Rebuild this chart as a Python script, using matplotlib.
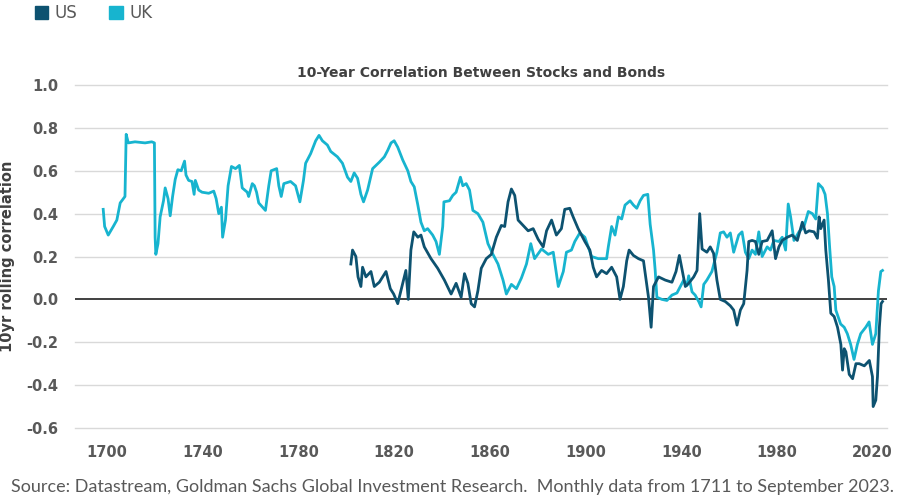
import matplotlib
matplotlib.use("Agg")
import matplotlib.pyplot as plt
from matplotlib.patches import Patch

# 10yr rolling stock/bond correlation
uk_years = [1698.4, 1699.0, 1700.5, 1701.3, 1702.6, 1704.1, 1705.5, 1706.8, 1707.5, 1708.0,
            1708.9, 1711.7, 1715.9, 1718.7, 1719.8, 1720.1, 1720.4, 1721.3, 1722.2, 1723.6,
            1724.3, 1725.5, 1726.4, 1727.4, 1728.5, 1729.6, 1731.0, 1732.4, 1733.0, 1734.1,
            1735.5, 1736.4, 1736.9, 1738.3, 1739.7, 1742.5, 1744.6, 1745.6, 1746.7, 1747.8,
            1748.3, 1749.5, 1750.6, 1752.0, 1753.7, 1755.3, 1756.5, 1758.6, 1759.2, 1760.7,
            1761.6, 1762.5, 1763.4, 1766.2, 1767.6, 1768.6, 1770.9, 1771.8, 1772.8, 1773.9,
            1776.7, 1778.8, 1780.6, 1782.1, 1783.0, 1785.1, 1787.2, 1788.6, 1790.0, 1792.1,
            1793.5, 1796.3, 1798.4, 1800.5, 1801.9, 1803.3, 1804.7, 1806.1, 1807.2, 1808.9,
            1811.0, 1813.8, 1815.9, 1817.3, 1818.7, 1820.0, 1821.5, 1823.6, 1825.7, 1827.0,
            1828.4, 1829.9, 1831.2, 1832.6, 1834.0, 1836.1, 1837.5, 1838.9, 1840.3, 1840.8,
            1843.1, 1844.5, 1845.9, 1847.7, 1848.7, 1850.1, 1851.5, 1852.9, 1855.0, 1857.1,
            1859.2, 1861.3, 1863.4, 1865.5, 1866.9, 1869.0, 1871.1, 1873.2, 1875.3, 1877.1,
            1878.7, 1881.6, 1884.4, 1886.5, 1888.6, 1890.7, 1892.0, 1894.1, 1895.5, 1897.6,
            1899.7, 1901.1, 1902.5, 1905.3, 1908.8, 1909.5, 1910.9, 1912.3, 1913.7, 1915.1,
            1916.5, 1918.6, 1920.0, 1921.4, 1922.8, 1924.2, 1926.0, 1927.0, 1928.4, 1929.1,
            1929.8, 1931.9, 1934.0, 1936.1, 1938.2, 1939.6, 1941.0, 1942.4, 1943.1, 1944.5,
            1945.8, 1947.3, 1948.3, 1949.4, 1950.7, 1952.8, 1954.9, 1956.3, 1957.7, 1959.1,
            1960.5, 1961.9, 1964.0, 1965.4, 1966.8, 1968.2, 1969.6, 1971.0, 1972.4, 1973.8,
            1975.9, 1977.3, 1978.7, 1980.8, 1982.2, 1983.6, 1984.7, 1985.7, 1987.1, 1989.2,
            1991.3, 1993.1, 1994.8, 1996.2, 1997.3, 1999.0, 2000.1, 2001.1, 2002.0, 2002.9,
            2003.9, 2004.6, 2006.6, 2008.1, 2009.4, 2010.8, 2012.2, 2013.6, 2015.0, 2017.1,
            2018.5, 2019.9, 2021.3, 2022.4, 2023.4, 2024.1]
uk_corr = [0.42, 0.34, 0.30, 0.315, 0.34, 0.37, 0.45, 0.47, 0.48, 0.77,
           0.73, 0.735, 0.73, 0.735, 0.73, 0.29, 0.21, 0.26, 0.385, 0.46,
           0.52, 0.47, 0.39, 0.48, 0.56, 0.605, 0.60, 0.645, 0.58, 0.555,
           0.55, 0.49, 0.555, 0.51, 0.50, 0.495, 0.505, 0.47, 0.40, 0.43,
           0.29, 0.37, 0.53, 0.62, 0.61, 0.625, 0.52, 0.50, 0.48, 0.54,
           0.53, 0.50, 0.45, 0.415, 0.53, 0.60, 0.61, 0.53, 0.48, 0.54,
           0.55, 0.53, 0.455, 0.555, 0.635, 0.68, 0.74, 0.765, 0.74, 0.72,
           0.69, 0.665, 0.635, 0.57, 0.55, 0.59, 0.565, 0.49, 0.455, 0.51,
           0.61, 0.64, 0.665, 0.695, 0.73, 0.74, 0.71, 0.65, 0.60, 0.55,
           0.525, 0.44, 0.36, 0.32, 0.33, 0.30, 0.27, 0.21, 0.34, 0.455,
           0.46, 0.485, 0.50, 0.57, 0.53, 0.54, 0.51, 0.415, 0.40, 0.36,
           0.26, 0.21, 0.165, 0.09, 0.025, 0.07, 0.05, 0.10, 0.165, 0.26,
           0.19, 0.235, 0.21, 0.22, 0.06, 0.13, 0.22, 0.23, 0.27, 0.31,
           0.29, 0.245, 0.20, 0.19, 0.19, 0.245, 0.34, 0.30, 0.385, 0.375,
           0.44, 0.46, 0.44, 0.425, 0.46, 0.485, 0.49, 0.35, 0.23, 0.135,
           0.01, 0.00, -0.005, 0.02, 0.03, 0.06, 0.09, 0.065, 0.11, 0.035,
           0.02, -0.01, -0.035, 0.07, 0.09, 0.13, 0.22, 0.31, 0.315, 0.29,
           0.31, 0.22, 0.30, 0.315, 0.22, 0.19, 0.23, 0.21, 0.315, 0.20,
           0.245, 0.23, 0.275, 0.27, 0.29, 0.23, 0.445, 0.385, 0.275, 0.315,
           0.34, 0.41, 0.40, 0.375, 0.54, 0.52, 0.49, 0.40, 0.245, 0.105,
           0.06, -0.05, -0.115, -0.13, -0.16, -0.21, -0.28, -0.21, -0.16, -0.13,
           -0.105, -0.21, -0.16, 0.04, 0.13, 0.135]

us_years = [1801.9, 1802.6, 1804.0, 1804.9, 1806.1, 1806.8, 1808.2, 1810.3, 1811.7, 1813.8,
            1816.6, 1818.4, 1819.8, 1821.5, 1823.6, 1824.9, 1825.9, 1827.0, 1828.2, 1829.9,
            1831.2, 1832.6, 1835.4, 1838.2, 1841.0, 1843.8, 1845.9, 1848.0, 1849.4, 1850.8,
            1852.2, 1853.6, 1855.0, 1856.4, 1858.5, 1860.6, 1862.7, 1864.8, 1866.2, 1867.6,
            1869.0, 1870.4, 1871.8, 1873.9, 1876.0, 1878.1, 1880.2, 1882.3, 1883.7, 1885.8,
            1887.8, 1889.9, 1891.3, 1893.4, 1894.8, 1896.9, 1899.7, 1901.8, 1903.2, 1904.6,
            1906.7, 1908.8, 1910.9, 1913.0, 1914.4, 1915.8, 1917.2, 1918.2, 1920.0, 1922.1,
            1924.2, 1926.3, 1927.4, 1928.4, 1930.5, 1933.3, 1936.1, 1937.8, 1939.2, 1940.3,
            1941.7, 1943.1, 1945.2, 1946.6, 1947.7, 1948.7, 1950.7, 1952.1, 1953.5, 1954.9,
            1956.3, 1958.4, 1960.5, 1961.9, 1963.3, 1964.7, 1966.1, 1967.5, 1968.2, 1969.6,
            1971.0, 1972.4, 1973.8, 1975.9, 1978.0, 1979.4, 1980.8, 1982.2, 1984.3, 1986.4,
            1988.5, 1990.6, 1992.0, 1993.4, 1995.5, 1996.9, 1997.6, 1998.3, 1999.7, 2000.4,
            2001.5, 2002.5, 2003.9, 2005.3, 2006.7, 2007.4, 2008.1, 2008.8, 2010.2, 2011.6,
            2013.0, 2014.4, 2016.5, 2018.6, 2019.9, 2020.2, 2021.3, 2022.0, 2022.8, 2023.5,
            2024.1]
us_corr = [0.165, 0.23, 0.20, 0.105, 0.06, 0.15, 0.105, 0.13, 0.06, 0.08,
           0.13, 0.05, 0.025, -0.02, 0.075, 0.135, 0.0, 0.23, 0.315, 0.29,
           0.30, 0.245, 0.19, 0.145, 0.09, 0.025, 0.075, 0.01, 0.12, 0.075,
           -0.02, -0.035, 0.04, 0.145, 0.19, 0.21, 0.29, 0.345, 0.34, 0.455,
           0.515, 0.485, 0.37, 0.345, 0.32, 0.33, 0.28, 0.245, 0.32, 0.37,
           0.30, 0.33, 0.42, 0.425, 0.385, 0.33, 0.27, 0.23, 0.15, 0.105,
           0.135, 0.12, 0.15, 0.105, 0.0, 0.06, 0.18, 0.23, 0.205, 0.19,
           0.18, 0.01, -0.13, 0.06, 0.105, 0.09, 0.08, 0.13, 0.205, 0.14,
           0.06, 0.075, 0.105, 0.135, 0.40, 0.235, 0.22, 0.245, 0.215, 0.09,
           0.0, -0.01, -0.03, -0.05, -0.12, -0.05, -0.02, 0.135, 0.27, 0.275,
           0.27, 0.21, 0.27, 0.275, 0.32, 0.19, 0.245, 0.275, 0.29, 0.30,
           0.275, 0.36, 0.31, 0.32, 0.315, 0.285, 0.385, 0.33, 0.37, 0.23,
           0.09, -0.065, -0.08, -0.13, -0.21, -0.33, -0.23, -0.245, -0.35, -0.37,
           -0.30, -0.30, -0.31, -0.285, -0.36, -0.50, -0.47, -0.36, -0.13, -0.02,
           -0.01]

y_ticks = [-0.6, -0.4, -0.2, 0.0, 0.2, 0.4, 0.6, 0.8, 1.0]
x_ticks = [1700, 1740, 1780, 1820, 1860, 1900, 1940, 1980, 2020]

US_COLOR = "#0d5270"
UK_COLOR = "#17b4cf"
TEXT_COLOR = "#595959"

fig = plt.figure(figsize=(9, 5.01), dpi=100)
ax = fig.add_axes([0.0833, 0.1457, 0.9023, 0.6846])

for y in y_ticks:
    if y != 0.0:
        ax.axhline(y, color="#d9d9d9", lw=1.0, zorder=1, clip_on=False)
ax.axhline(0.0, color="#404040", lw=1.4, zorder=2)

ax.plot(uk_years, uk_corr, color=UK_COLOR, lw=2.0, zorder=3, solid_joinstyle="round")
ax.plot(us_years, us_corr, color=US_COLOR, lw=2.0, zorder=4, solid_joinstyle="round")

ax.set_xlim(1686.6, 2026.0)
ax.set_ylim(-0.6, 1.0)
ax.set_xticks(x_ticks)
ax.set_yticks(y_ticks)
ax.set_yticklabels([f"{v:.1f}" for v in y_ticks])
ax.tick_params(length=0, labelsize=10.5, labelcolor=TEXT_COLOR, pad=12)
for lab in ax.get_xticklabels() + ax.get_yticklabels():
    lab.set_fontweight("bold")
for s in ax.spines.values():
    s.set_visible(False)

ax.set_ylabel("10yr rolling correlation", fontsize=10.5, fontweight="bold",
              color="#404040", labelpad=8)
ax.set_title("10-Year Correlation Between Stocks and Bonds", fontsize=10,
             fontweight="bold", color="#404040", pad=6)

handles = [Patch(color=US_COLOR, label="US"), Patch(color=UK_COLOR, label="UK")]
fig.legend(handles=handles, loc="upper left", bbox_to_anchor=(0.022, 1.022), ncol=2,
           frameon=False, handlelength=0.8, handleheight=0.8, handletextpad=0.4,
           columnspacing=1.9, prop={"size": 12}, labelcolor=TEXT_COLOR)

fig.text(0.012, 0.018, "Source: Datastream, Goldman Sachs Global Investment Research.  "
         "Monthly data from 1711 to September 2023.", fontsize=13, color=TEXT_COLOR,
         family="Lato")

fig.savefig("out.png", dpi=100)
